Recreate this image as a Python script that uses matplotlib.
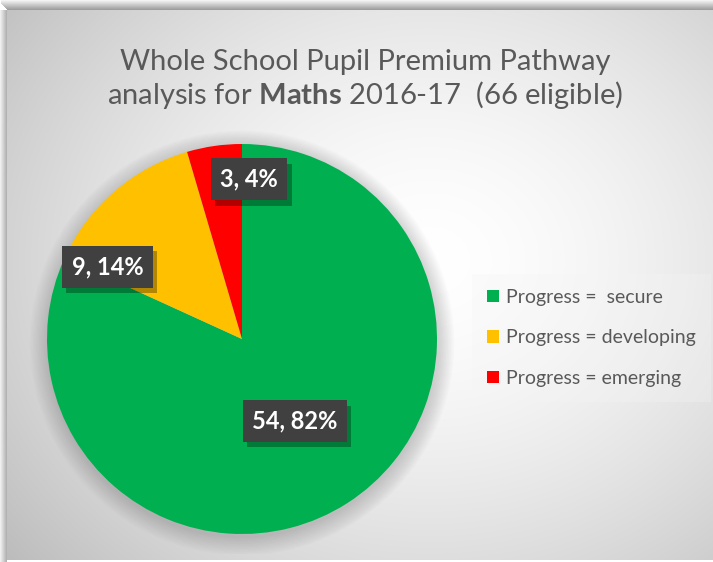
import numpy as np
import matplotlib.pyplot as plt
from matplotlib.patches import Circle, Rectangle
import matplotlib.patheffects as pe

plt.rcParams['font.family'] = ['Lato', 'DejaVu Sans']
plt.rcParams['mathtext.fontset'] = 'custom'
plt.rcParams['mathtext.rm'] = 'Lato'
plt.rcParams['mathtext.bf'] = 'Lato:bold'

categories = ['Progress =  secure', 'Progress = developing', 'Progress = emerging']
counts = [54, 9, 3]
percents = [82, 14, 4]
colors = ['#00b050', '#ffc000', '#ff0000']
# label centres inside the pie axes (radius 1)
label_pos = [(0.27, -0.42), (-0.69, 0.37), (0.036, 0.82)]

W, H = 713, 562
fig = plt.figure(figsize=(W / 100, H / 100), dpi=100)
fig.patch.set_facecolor('white')

# panel background with radial gradient
bg = fig.add_axes([0, 0, 1, 1], zorder=0)
bg.set_xlim(0, W)
bg.set_ylim(H, 0)
bg.axis('off')
yy, xx = np.mgrid[0:H, 0:W]
d = np.sqrt(((xx - 430) / 450.0) ** 2 + ((yy - 260) / 380.0) ** 2)
g = 1.0 - 0.19 * np.clip(d, 0, 1.3) ** 1.6
img = np.dstack([g, g, g])

# shadow along top and left edge
sh = np.ones((H, W))
for k in range(10):
    sh[10 - k - 1, 7 - min(k, 6):] = 0.62 + 0.037 * k
for k in range(7):
    sh[10:, 7 - k - 1] = 0.70 + 0.04 * k
bg.imshow(np.dstack([sh, sh, sh]), extent=[0, W, H, 0], zorder=0)
bg.imshow(img[10:560, 7:], extent=[7, W, 560, 10], zorder=2)

# pie
ax = fig.add_axes([0, 0, 1, 1], zorder=2)
ax.patch.set_visible(False)
for k in range(12):
    ax.add_patch(Circle((0.0, -0.02), 1.0 + 0.008 * k, facecolor='0.35',
                        edgecolor='none', alpha=0.022, zorder=0))
wedges, _ = ax.pie(counts, colors=colors, startangle=90, counterclock=False,
                   radius=1.0, wedgeprops=dict(linewidth=0))
for w in wedges:
    w.set_zorder(2)
ax.set_xlim(-1.1, 1.1)
ax.set_ylim(-1.1, 1.1)
ax.set_aspect('equal')
ax.axis('off')
ax.set_position([(47 - 19.5) / W, (H - 339 - 214.5) / H, 429 / W, 429 / H])

for (x, y), c, p in zip(label_pos, counts, percents):
    t = ax.text(x, y, f'{c}, {p}%', ha='center', va='center', fontsize=17,
                fontweight='bold', color='white', zorder=4,
                bbox=dict(boxstyle='square,pad=0.4', facecolor='#404040', edgecolor='none'))
    t.get_bbox_patch().set_path_effects([
        pe.SimplePatchShadow(offset=(3, -4), shadow_rgbFace='black', alpha=0.3),
        pe.Normal()])

# title
fig.text(365 / W, 1 - 62 / H, 'Whole School Pupil Premium Pathway', ha='center', va='center',
         fontsize=21, color='#595959')
fig.text(365 / W, 1 - 95 / H, r'analysis for $\mathbf{Maths}$ 2016-17  (66 eligible)',
         ha='center', va='center', fontsize=21, color='#595959')

# legend
handles = [Rectangle((0, 0), 1, 1, facecolor=c, edgecolor='none') for c in colors]
leg = fig.legend(handles, categories, loc='center left', bbox_to_anchor=(462 / W, 1 - 338 / H),
                 frameon=True, fontsize=14, labelcolor='#595959', handlelength=0.6,
                 handleheight=0.6, handletextpad=0.35, labelspacing=1.2, borderpad=0.8,
                 fancybox=False)
leg.get_frame().set_facecolor('#f5f5f5')
leg.get_frame().set_alpha(0.3)
leg.get_frame().set_edgecolor('none')

fig.savefig('out.png', dpi=100, facecolor=fig.get_facecolor())
